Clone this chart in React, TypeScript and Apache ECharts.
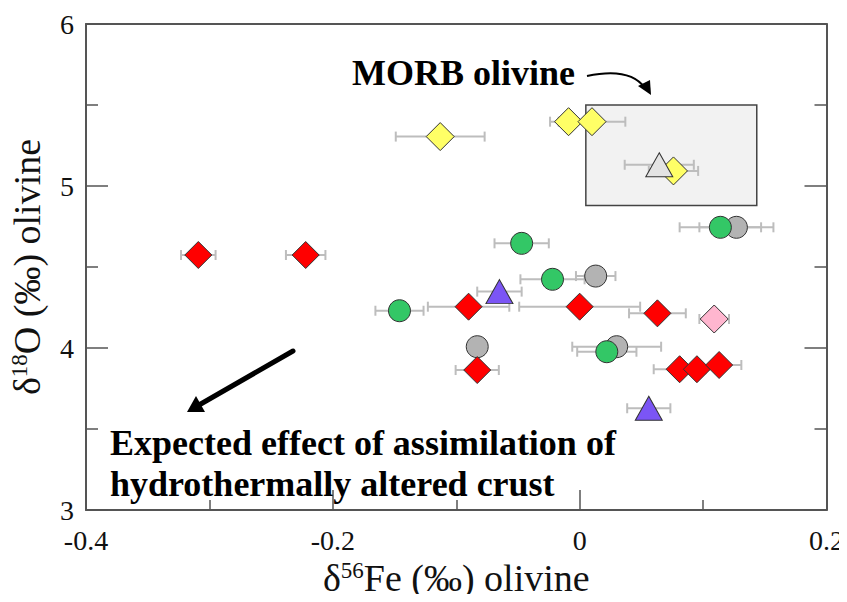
import React, { useEffect, useRef } from "react";
import * as echarts from "echarts";

// [x (δ56Fe), y (δ18O), x error]
const redDiamonds = [
  [-0.309, 4.574, 0.014],
  [-0.222, 4.574, 0.016],
  [-0.09, 4.255, 0.033],
  [-0.083, 3.864, 0.0175],
  [0.0, 4.255, 0.049],
  [0.063, 4.214, 0.023],
  [0.081, 3.869, 0.021],
  [0.095, 3.869, 0.015],
  [0.113, 3.895, 0.018],
];
const greenCircles = [
  [-0.146, 4.23, 0.0195],
  [-0.047, 4.646, 0.022],
  [-0.022, 4.424, 0.026],
  [0.022, 3.977, 0.024],
  [0.114, 4.745, 0.033],
];
const grayCircles = [
  [-0.083, 4.008, 0],
  [0.013, 4.444, 0.016],
  [0.03, 4.008, 0.036],
  [0.127, 4.745, 0.03],
];
const yellowDiamonds = [
  [-0.113, 5.305, 0.036],
  [-0.009, 5.397, 0.015],
  [0.01, 5.397, 0.027],
  [0.076, 5.093, 0.02],
];
const grayTriangles = [[0.0645, 5.131, 0.028]];
const purpleTriangles = [
  [-0.065, 4.348, 0.018],
  [0.056, 3.628, 0.0175],
];
const pinkDiamonds = [[0.109, 4.179, 0.012]];

const morbBoxX = [0.005, 0.1435];
const morbBoxY = [4.88, 5.5];

const xTicks = { min: -0.4, max: 0.2, interval: 0.2 };
const yTicks = { min: 3, max: 6, interval: 1 };

const FONT = "'Liberation Serif', 'Times New Roman', serif";

export default function App() {
  const ref = useRef<HTMLDivElement>(null);
  useEffect(() => {
    if (!ref.current) return;
    const chart = echarts.init(ref.current, undefined, { renderer: "svg" });

    const allErr = [
      ...grayCircles,
      ...greenCircles,
      ...yellowDiamonds,
      ...grayTriangles,
      ...redDiamonds,
      ...pinkDiamonds,
      ...purpleTriangles,
    ];

    const errSeries: any = {
      type: "custom",
      data: allErr,
      encode: { x: 0, y: 1 },
      z: 1,
      renderItem: (params: any, api: any) => {
        const x = api.value(0);
        const y = api.value(1);
        const e = api.value(2);
        if (!e) return null;
        const p1 = api.coord([x - e, y]);
        const p2 = api.coord([x + e, y]);
        const st = { stroke: "#bdbdbd", lineWidth: 2 };
        return {
          type: "group",
          children: [
            { type: "line", shape: { x1: p1[0], y1: p1[1], x2: p2[0], y2: p2[1] }, style: st },
            { type: "line", shape: { x1: p1[0], y1: p1[1] - 5, x2: p1[0], y2: p1[1] + 5 }, style: st },
            { type: "line", shape: { x1: p2[0], y1: p2[1] - 5, x2: p2[0], y2: p2[1] + 5 }, style: st },
          ],
        };
      },
      markArea: {
        silent: true,
        itemStyle: { color: "#f2f2f2", borderColor: "#444", borderWidth: 1.5 },
        data: [[{ coord: [morbBoxX[0], morbBoxY[1]] }, { coord: [morbBoxX[1], morbBoxY[0]] }]],
      },
    };

    const sc = (data: number[][], symbol: string, size: any, color: string) => ({
      type: "scatter",
      data: data.map((d) => [d[0], d[1]]),
      symbol,
      symbolSize: size,
      z: 3,
      itemStyle: { color, borderColor: "#333", borderWidth: 1, opacity: 1 },
      emphasis: { disabled: true },
    });

    const axisLine = { show: true, onZero: false, lineStyle: { color: "#555", width: 2 } };
    const tickStyle = { color: "#555", width: 1.5 };
    const rich = {
      d: { fontFamily: FONT, fontSize: 38, color: "#111" },
      s: { fontFamily: FONT, fontSize: 23, color: "#111", verticalAlign: "top", padding: [0, 0, 14, 0] },
      n: { fontFamily: FONT, fontSize: 38, color: "#111" },
    };

    const option: any = {
      animation: false,
      backgroundColor: "#fff",
      grid: { left: 85, top: 24, right: 18, bottom: 92, containLabel: false },
      xAxis: [
        {
          type: "value",
          min: xTicks.min,
          max: xTicks.max,
          interval: xTicks.interval,
          position: "bottom",
          axisLine,
          axisTick: { show: true, inside: true, length: 20, lineStyle: tickStyle },
          minorTick: { show: true, splitNumber: 2, length: 10, lineStyle: tickStyle },
          splitLine: { show: false },
          axisLabel: {
            fontFamily: FONT,
            fontSize: 28,
            color: "#111",
            margin: 16,
            formatter: (v: number) => (Math.abs(v) < 1e-9 ? "0" : String(Math.round(v * 10) / 10)),
          },
          name: "{d|δ}{s|56}{n|Fe (‰) olivine}",
          nameLocation: "middle",
          nameGap: 46,
          nameTextStyle: { rich },
        },
        {
          type: "value",
          min: xTicks.min,
          max: xTicks.max,
          interval: xTicks.interval,
          position: "top",
          axisLine,
          axisTick: { show: false },
          splitLine: { show: false },
          axisLabel: { show: false },
        },
      ],
      yAxis: [
        {
          type: "value",
          min: yTicks.min,
          max: yTicks.max,
          interval: yTicks.interval,
          position: "left",
          axisLine,
          axisTick: { show: true, inside: true, length: 22, lineStyle: tickStyle },
          minorTick: { show: true, splitNumber: 2, length: 12, lineStyle: tickStyle },
          splitLine: { show: false },
          axisLabel: { fontFamily: FONT, fontSize: 28, color: "#111", margin: 12 },
          name: "{d|δ}{s|18}{n|O (‰) olivine}",
          nameLocation: "middle",
          nameGap: 40,
          nameTextStyle: { rich },
        },
        {
          type: "value",
          min: yTicks.min,
          max: yTicks.max,
          interval: yTicks.interval,
          position: "right",
          axisLine,
          axisTick: { show: true, inside: true, length: 22, lineStyle: tickStyle },
          minorTick: { show: true, splitNumber: 2, length: 12, lineStyle: tickStyle },
          splitLine: { show: false },
          axisLabel: { show: false },
        },
      ],
      series: [
        errSeries,
        sc(grayCircles, "circle", 22, "#b3b3b3"),
        sc(greenCircles, "circle", 22, "#33c766"),
        sc(yellowDiamonds, "diamond", 28, "#ffff66"),
        sc(grayTriangles, "triangle", [27, 24], "#e3e3e3"),
        sc(redDiamonds, "diamond", 27, "#ff0000"),
        sc(pinkDiamonds, "diamond", 28, "#ffb6cf"),
        sc(purpleTriangles, "triangle", [27, 24], "#7b55f5"),
      ],
      graphic: [
        {
          type: "text",
          left: 352,
          top: 55,
          style: { text: "MORB olivine", font: `bold 36px ${FONT}`, fill: "#000" },
          z: 10,
        },
        {
          type: "bezierCurve",
          shape: { x1: 587, y1: 76, x2: 645, y2: 88, cpx1: 615, cpy1: 70, cpx2: 635, cpy2: 74 },
          style: { stroke: "#000", lineWidth: 2, fill: null },
          z: 10,
        },
        {
          type: "polygon",
          shape: { points: [[651, 95], [638, 86], [650, 80]] },
          style: { fill: "#000" },
          z: 10,
        },
        {
          type: "line",
          shape: { x1: 293, y1: 351, x2: 199, y2: 405 },
          style: { stroke: "#000", lineWidth: 5, lineCap: "round" },
          z: 10,
        },
        {
          type: "polygon",
          shape: { points: [[187, 412], [205, 412], [196, 396]] },
          style: { fill: "#000" },
          z: 10,
        },
        {
          type: "text",
          left: 110,
          top: 422,
          style: {
            text: "Expected effect of assimilation of\nhydrothermally altered crust",
            font: `bold 36px ${FONT}`,
            lineHeight: 41,
            fill: "#000",
          },
          z: 10,
        },
      ],
    };
    chart.setOption(option);
    return () => chart.dispose();
  }, []);
  return <div ref={ref} style={{ width: 847, height: 602, margin: -8 }} />;
}
